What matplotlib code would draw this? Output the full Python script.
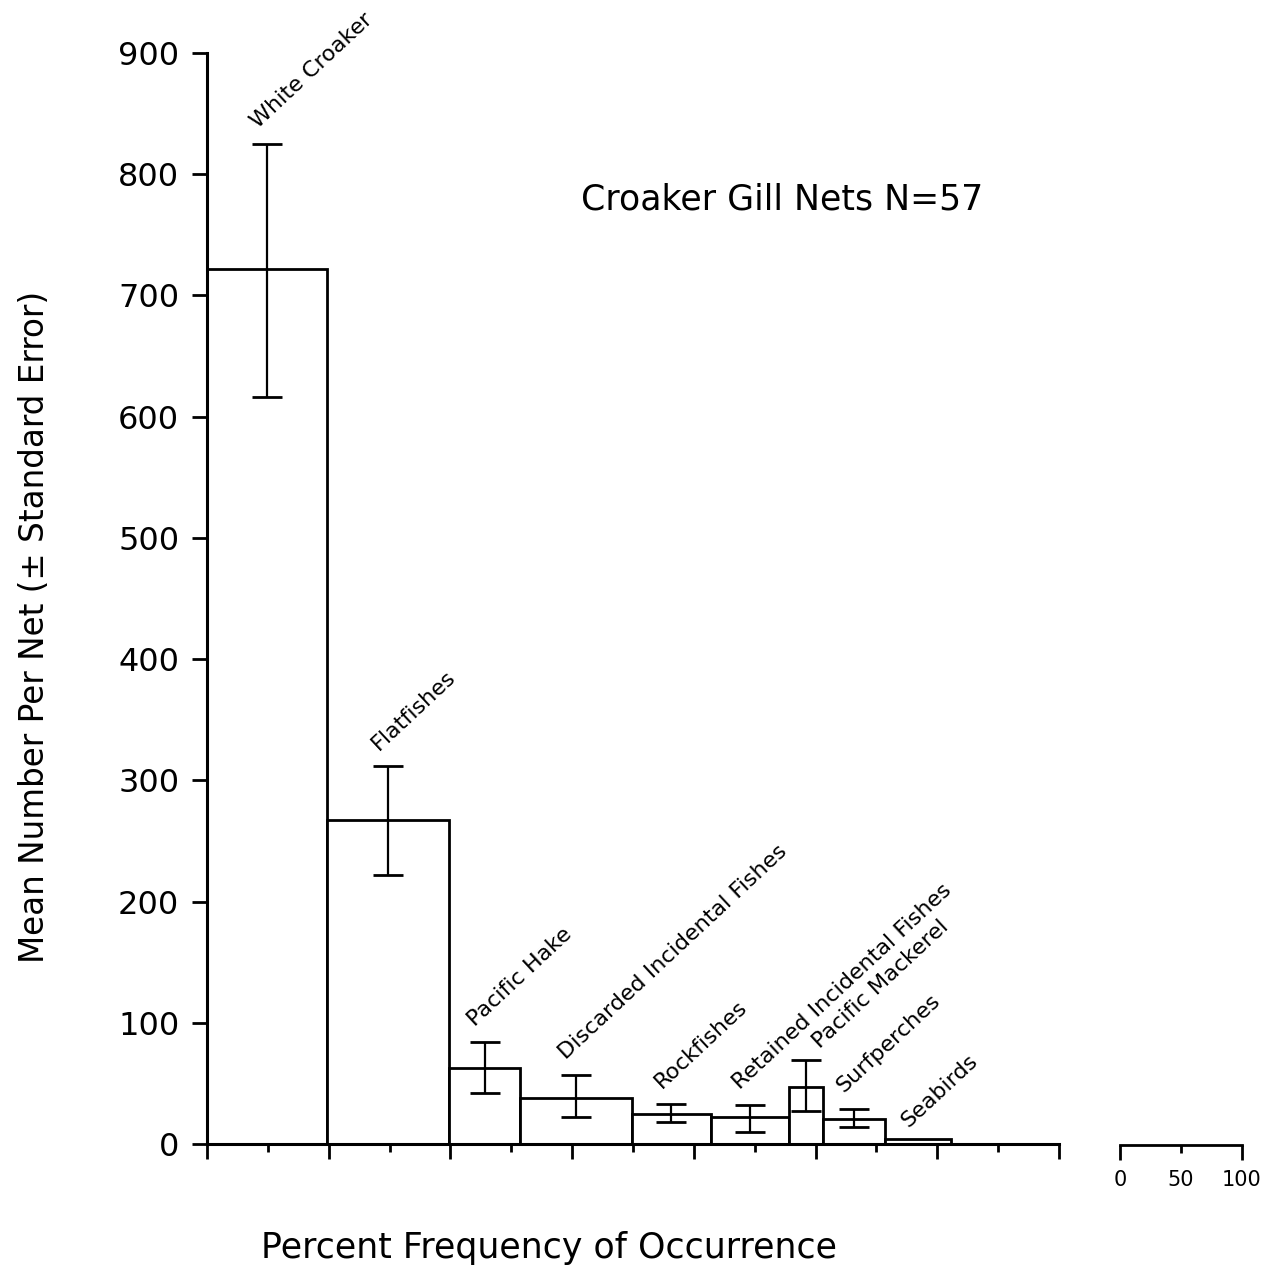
import numpy as np
import matplotlib
matplotlib.use("Agg")
import matplotlib.pyplot as plt

# catch composition, crocker gill nets (N=57)
species = ["White Croaker", "Flatfishes", "Pacific Hake",
           "Discarded Incidental Fishes", "Rockfishes",
           "Retained Incidental Fishes", "Pacific Mackerel",
           "Surfperches", "Seabirds"]
# bar width = percent frequency of occurrence
freq_pct = [99, 100, 58, 92, 65, 64, 28, 51, 54]
mean_per_net = [722, 267, 63, 38, 25, 22, 47, 21, 4]
se_upper = [825, 312, 84, 57, 33, 32, 69, 29, np.nan]
se_lower = [616, 222, 42, 22, 18, 10, 27, 14, np.nan]

y_ticks = [0, 100, 200, 300, 400, 500, 600, 700, 800, 900]

W, H = 1278, 1272
fig = plt.figure(figsize=(W / 100, H / 100), dpi=100)
plt.rcParams['font.family'] = ['DejaVu Sans']

ax = fig.add_axes([207 / W, 1 - 1144 / H, 852 / W, 1091 / H])

freq = np.array(freq_pct, dtype=float)
mean = np.array(mean_per_net, dtype=float)
upper = np.array(se_upper, dtype=float)
lower = np.array(se_lower, dtype=float)
lefts = np.concatenate([[0], np.cumsum(freq)[:-1]])
centers = lefts + freq / 2

ax.bar(lefts, mean, width=freq, align='edge', facecolor='white',
       edgecolor='black', linewidth=2.0, zorder=2)

has_err = ~np.isnan(upper)
ax.errorbar(centers[has_err], mean[has_err],
            yerr=[mean[has_err] - lower[has_err], upper[has_err] - mean[has_err]],
            fmt='none', ecolor='black', elinewidth=1.6, capsize=11,
            capthick=2.0, zorder=3)

# species names, rotated above each bar
for i, name in enumerate(species):
    top = upper[i] if has_err[i] else mean[i]
    dx, dy = (-7, 11)
    if name == "Pacific Mackerel":
        dx, dy = (10, 8)
    if name == "Seabirds":
        dy = 8
    ax.annotate(name, xy=(centers[i], top), xytext=(dx, dy),
                textcoords='offset points', rotation=43,
                rotation_mode='anchor', ha='left', va='baseline',
                fontsize=16)

ax.set_xlim(0, 700)
ax.set_ylim(0, 900)
ax.set_xticks(np.arange(0, 701, 100))
ax.set_xticks(np.arange(50, 700, 100), minor=True)
ax.set_xticklabels([])
ax.set_yticks(y_ticks)
ax.set_yticklabels([str(v) for v in y_ticks])
ax.tick_params(axis='y', direction='out', length=11, width=2, pad=9, labelsize=23)
ax.tick_params(axis='x', which='major', direction='out', length=11, width=2)
ax.tick_params(axis='x', which='minor', direction='out', length=6, width=2)
for s in ['top', 'right']:
    ax.spines[s].set_visible(False)
for s in ['left', 'bottom']:
    ax.spines[s].set_linewidth(2.2)

fig.text(35 / W, 1 - 627 / H, "Mean Number Per Net (\u00b1 Standard Error)",
         rotation=90, ha='center', va='center', fontsize=23.5)
fig.text(549 / W, 1 - 1248 / H, "Percent Frequency of Occurrence",
         ha='center', va='center', fontsize=25)
fig.text(782 / W, 1 - 200 / H, "Croaker Gill Nets N=57",
         ha='center', va='center', fontsize=25)

# little scale bar for bar widths
sax = fig.add_axes([1120 / W, 1 - 1145 / H, 122 / W, 0.001])
sax.set_xlim(0, 100)
sax.set_yticks([])
sax.set_xticks([0, 100], labels=['0', '100'])
sax.set_xticks([50], labels=['50'], minor=True)
sax.tick_params(axis='x', which='major', direction='out', length=11, width=2,
                pad=7, labelsize=15)
sax.tick_params(axis='x', which='minor', direction='out', length=6, width=2,
                pad=12, labelsize=15)
for s in ['top', 'right', 'left']:
    sax.spines[s].set_visible(False)
sax.spines['bottom'].set_linewidth(2.0)
sax.patch.set_alpha(0)

fig.savefig("out.png", dpi=100, facecolor='white')
